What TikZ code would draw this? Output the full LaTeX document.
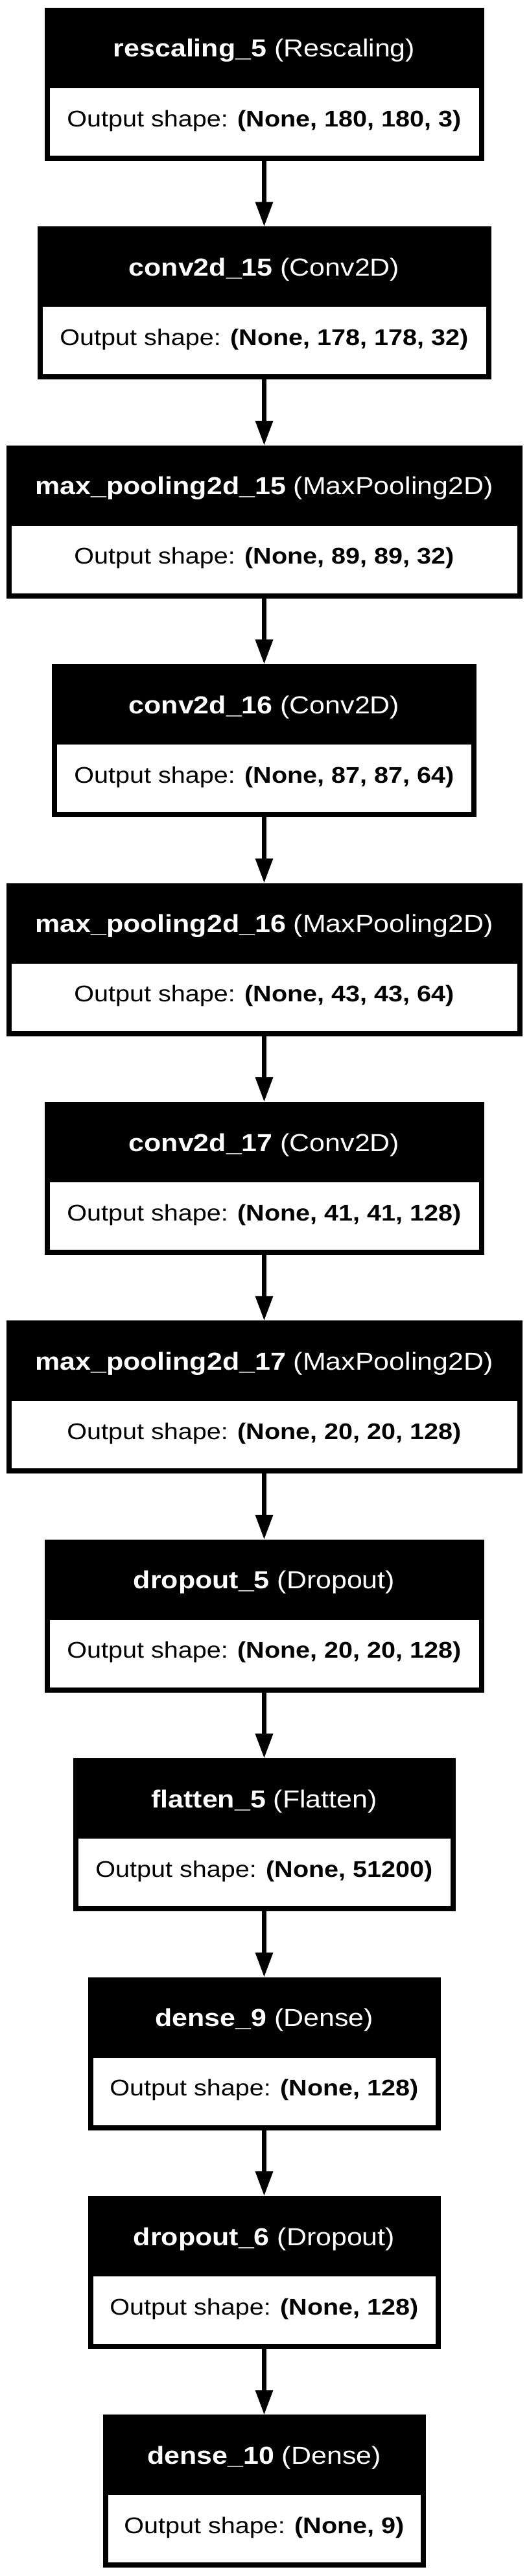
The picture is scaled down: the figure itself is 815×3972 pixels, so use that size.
\documentclass[tikz,border=0pt]{standalone}
\usepackage{fontspec}
\setmainfont{Liberation Sans}[FakeStretch=1.13]
\usetikzlibrary{arrows.meta,calc}

\tikzset{
  layerbox/.style={fill=black, minimum height=236pt, inner sep=0pt, outer sep=0pt},
  shapebox/.style={fill=white, minimum height=104pt, inner sep=0pt, outer sep=0pt},
  headtext/.style={text=white, inner sep=0pt, anchor=base, font=\fontsize{38pt}{45pt}\selectfont},
  shapetext/.style={text=black, inner sep=0pt, anchor=base, font=\fontsize{35pt}{42pt}\selectfont},
  flow/.style={line width=6.5pt, -{Triangle[length=38pt,width=26pt]}}
}

% one keras layer: name, top, width, layer, class, output shape
\newcommand{\kblock}[6]{%
  \node[layerbox, minimum width=#3pt, anchor=north] (#1) at (407.5,#2) {};
  \node[shapebox, minimum width=#3pt-16pt, anchor=south] (#1-out) at ($(#1.south)+(0,-8)$) {};
  \node[headtext] (#1-name) at ($(#1.north)+(0,76)$) {\textbf{#4} (#5)};
  \node[shapetext] (#1-txt) at ($(#1.north)+(0,183)$) {Output shape: \textbf{#6}};
}

\begin{document}
\begin{tikzpicture}[x=1pt,y=-1pt]
\useasboundingbox (0,0) rectangle (815,3972);
\kblock{resc}{12}{678}{rescaling\_5}{Rescaling}{(None, 180, 180, 3)}
\kblock{conv15}{349.4}{700}{conv2d\_15}{Conv2D}{(None, 178, 178, 32)}
\kblock{pool15}{686.8}{796}{max\_pooling2d\_15}{MaxPooling2D}{(None, 89, 89, 32)}
\kblock{conv16}{1024.2}{655}{conv2d\_16}{Conv2D}{(None, 87, 87, 64)}
\kblock{pool16}{1361.6}{796}{max\_pooling2d\_16}{MaxPooling2D}{(None, 43, 43, 64)}
\kblock{conv17}{1699}{678}{conv2d\_17}{Conv2D}{(None, 41, 41, 128)}
\kblock{pool17}{2036.4}{796}{max\_pooling2d\_17}{MaxPooling2D}{(None, 20, 20, 128)}
\kblock{drop5}{2373.8}{678}{dropout\_5}{Dropout}{(None, 20, 20, 128)}
\kblock{flat5}{2711.2}{590}{flatten\_5}{Flatten}{(None, 51200)}
\kblock{dense9}{3048.6}{544}{dense\_9}{Dense}{(None, 128)}
\kblock{drop6}{3386}{544}{dropout\_6}{Dropout}{(None, 128)}
\kblock{dense10}{3723.4}{498}{dense\_10}{Dense}{(None, 9)}
\foreach \a/\b in {resc/conv15, conv15/pool15, pool15/conv16, conv16/pool16, pool16/conv17,
  conv17/pool17, pool17/drop5, drop5/flat5, flat5/dense9, dense9/drop6, drop6/dense10}
  \draw[flow] (\a.south) -- (\b.north);
\end{tikzpicture}
\end{document}
